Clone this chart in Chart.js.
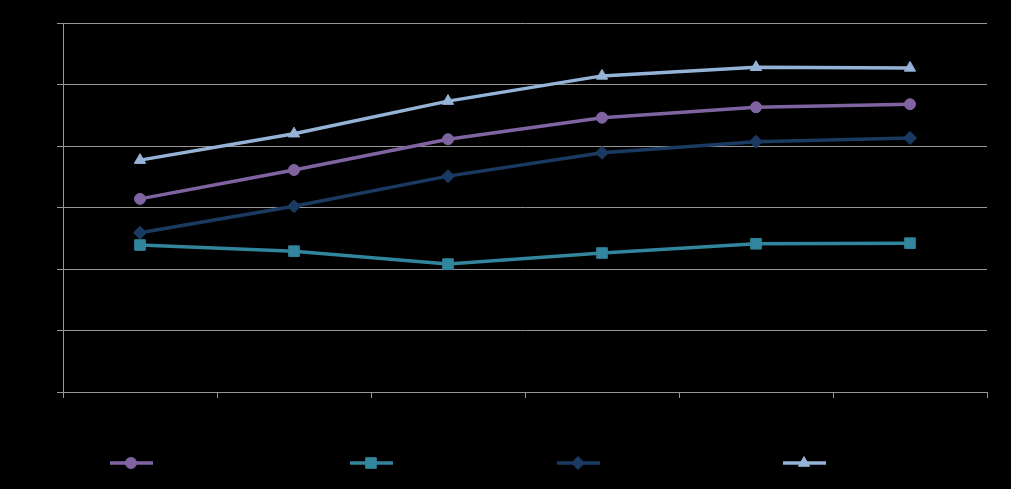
<!DOCTYPE html>
<html>
<head>
<meta charset="utf-8">
<script src="https://cdn.jsdelivr.net/npm/chart.js@4/dist/chart.umd.min.js"></script>
<style>
  html, body { margin: 0; padding: 0; background: #000; }
  #wrap { width: 1011px; height: 489px; position: relative; }
</style>
</head>
<body>
<div id="wrap"><canvas id="chart"></canvas></div>
<script>
"use strict";

// values (axis 0..60)
var categories = ["Category 1", "Category 2", "Category 3", "Category 4", "Category 5", "Category 6"];
var seriesNames = ["Series 1", "Series 2", "Series 3", "Series 4"];
var series1 = [31.4, 36.1, 41.1, 44.6, 46.3, 46.8];
var series2 = [23.9, 22.9, 20.8, 22.6, 24.1, 24.2];
var series3 = [25.9, 30.2, 35.1, 38.9, 40.7, 41.3];
var series4 = [37.7, 42.0, 47.3, 51.4, 52.8, 52.7];
var yTicks = [0, 10, 20, 30, 40, 50, 60];

var colors = ["#8064A2", "#31859C", "#1B3A62", "#95B3D7"];
var styles = ["circle", "rect", "rectRot", "triangle"];
var radii = [5.5, 7.5, 6.5, 6.5];
var legendX = [110, 350, 557, 783];

function makeSet(i, data) {
    return {
        label: seriesNames[i],
        data: data,
        borderColor: colors[i],
        backgroundColor: colors[i],
        borderWidth: 3.5,
        pointStyle: styles[i],
        pointRadius: radii[i],
        pointBorderWidth: 1,
        pointHoverRadius: radii[i],
        tension: 0
    };
}

var bottomLegend = {
    id: "bottomLegend",
    afterDraw: function(chart) {
        var ctx = chart.ctx;
        var y = 463;
        ctx.save();
        chart.data.datasets.forEach(function(ds, i) {
            var x0 = legendX[i];
            ctx.strokeStyle = ds.borderColor;
            ctx.lineWidth = 3.5;
            ctx.beginPath();
            ctx.moveTo(x0, y);
            ctx.lineTo(x0 + 43, y);
            ctx.stroke();
            ctx.fillStyle = ds.backgroundColor;
            ctx.lineWidth = 1;
            Chart.helpers.drawPoint(ctx, {
                pointStyle: ds.pointStyle,
                radius: ds.pointRadius,
                rotation: 0,
                borderWidth: 1
            }, x0 + 21, y);
            ctx.fillStyle = "#000";
            ctx.font = "13px 'Liberation Sans'";
            ctx.textBaseline = "middle";
            ctx.fillText(ds.label, x0 + 48, y);
        });
        ctx.restore();
    }
};

new Chart(document.getElementById("chart"), {
    type: "line",
    data: {
        labels: categories,
        datasets: [
            makeSet(0, series1),
            makeSet(1, series2),
            makeSet(2, series3),
            makeSet(3, series4)
        ]
    },
    options: {
        responsive: true,
        maintainAspectRatio: false,
        animation: false,
        layout: { padding: { top: 23, right: 24, bottom: 67, left: 0 } },
        plugins: {
            legend: { display: false },
            tooltip: { enabled: false }
        },
        scales: {
            x: {
                offset: true,
                grid: {
                    offset: true,
                    drawOnChartArea: false,
                    color: "#969696",
                    tickLength: 6
                },
                border: { color: "#969696", width: 1 },
                ticks: {
                    color: "#000",
                    font: { family: "Liberation Sans", size: 13 }
                },
                afterFit: function(scale) { scale.height = 30; }
            },
            y: {
                min: 0,
                max: 60,
                afterBuildTicks: function(scale) {
                    scale.ticks = yTicks.map(function(v) { return { value: v }; });
                },
                grid: {
                    color: "#969696",
                    tickLength: 6
                },
                border: { color: "#969696", width: 1 },
                ticks: {
                    color: "#000",
                    font: { family: "Liberation Sans", size: 13 }
                },
                afterFit: function(scale) { scale.width = 63; }
            }
        }
    },
    plugins: [bottomLegend]
});
</script>
</body>
</html>
